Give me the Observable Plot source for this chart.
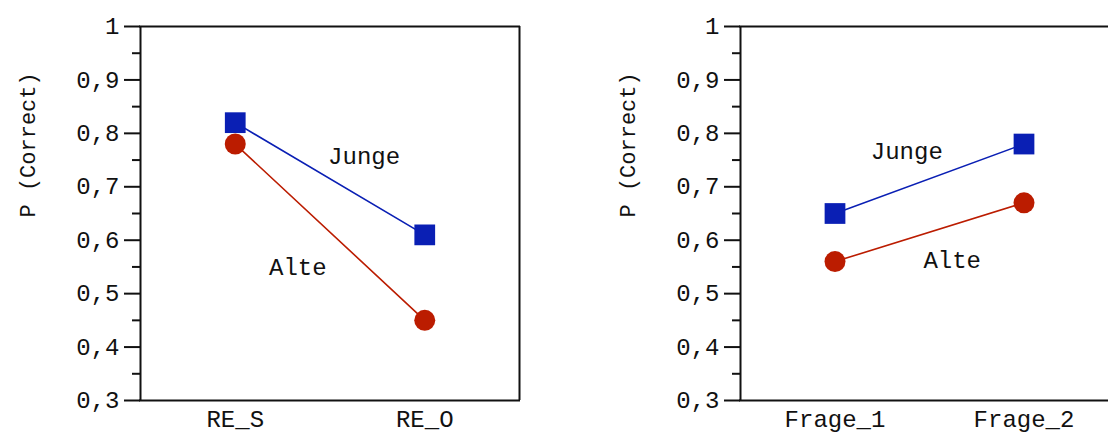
<!DOCTYPE html>
<html>
<head>
<meta charset="utf-8">
<script src="https://cdn.jsdelivr.net/npm/d3@7"></script>
<script src="https://cdn.jsdelivr.net/npm/@observablehq/plot@0.6"></script>
<style>
  html, body { margin: 0; padding: 0; background: #fff; overflow: hidden; }
  #wrap { position: relative; width: 1108px; height: 437px; overflow: hidden; }
  #wrap svg { position: absolute; top: 0; max-width: none !important; }
</style>
</head>
<body>
<div id="wrap"></div>
<script>
// ---- data ----
const groups = ["Junge", "Alte"];
const leftCats = ["RE_S", "RE_O"];
const leftJunge = [0.82, 0.61];
const leftAlte = [0.78, 0.45];
const rightCats = ["Frage_1", "Frage_2"];
const rightJunge = [0.65, 0.78];
const rightAlte = [0.56, 0.67];
const yMajorTicks = [0.3, 0.4, 0.5, 0.6, 0.7, 0.8, 0.9, 1];
const yMinorTicks = [0.35, 0.45, 0.55, 0.65, 0.75, 0.85, 0.95];
const yLabel = "P (Correct)";
// annotation anchors in data units (category index, value)
const leftLabels = [{t: "Junge", i: 0.68, v: 0.757}, {t: "Alte", i: 0.33, v: 0.55}];
const rightLabels = [{t: "Junge", i: 0.38, v: 0.767}, {t: "Alte", i: 0.62, v: 0.563}];

const colors = {Junge: "#0a1fb4", Alte: "#bb1c00"};
const symbols = {Junge: "square", Alte: "circle"};
const fmt = d => d === 1 ? "1" : d.toFixed(1).replace(".", ",");

function rows(cats, junge, alte) {
  const out = [];
  cats.forEach((c, i) => out.push({g: "Junge", i, v: junge[i]}));
  cats.forEach((c, i) => out.push({g: "Alte", i, v: alte[i]}));
  return out;
}

function panel(cats, junge, alte, labels, opts) {
  const data = rows(cats, junge, alte);
  return Plot.plot({
    width: opts.width,
    height: 437,
    marginLeft: opts.marginLeft,
    marginRight: opts.marginRight,
    marginTop: 26,
    marginBottom: 37,
    style: {fontFamily: "'Liberation Mono', monospace", fontSize: "24px", color: "#111", background: "#fff"},
    x: {domain: [-0.5, 1.5], axis: null},
    y: {domain: [0.3, 1], axis: null},
    marks: [
      Plot.ruleY([0.3, 1], {stroke: "#111", strokeWidth: 2, insetLeft: -1, insetRight: -1}),
      Plot.ruleX(opts.edges, {stroke: "#111", strokeWidth: 2}),
      Plot.axisY(yMajorTicks, {tickSize: 16, tickPadding: 5, tickFormat: fmt, label: null, strokeWidth: 2, fontSize: 24}),
      Plot.axisY(yMinorTicks, {tickSize: 8, tickFormat: () => "", label: null, strokeWidth: 2}),
      Plot.axisX([0, 1], {tickSize: 0, tickPadding: 9, tickFormat: i => cats[i], label: null, fontSize: 24}),
      Plot.text([yLabel], {frameAnchor: "left", rotate: -90, dx: -113, dy: 4, fontSize: 22}),
      ...groups.map(g => Plot.line(data.filter(d => d.g === g), {x: "i", y: "v", stroke: colors[g], strokeWidth: 1.6})),
      ...groups.map(g => Plot.dot(data.filter(d => d.g === g), {
        x: "i", y: "v", fill: colors[g], stroke: "none",
        symbol: symbols[g], r: g === "Junge" ? 11.7 : 10.5
      })),
      Plot.text(labels, {x: "i", y: "v", text: "t", fontSize: 24})
    ]
  });
}

const wrap = document.getElementById("wrap");
const left = panel(leftCats, leftJunge, leftAlte, leftLabels, {width: 560, marginLeft: 140, marginRight: 41, edges: [-0.5, 1.5]});
left.style.left = "0px";
wrap.appendChild(left);
const right = panel(rightCats, rightJunge, rightAlte, rightLabels, {width: 600, marginLeft: 180, marginRight: 42, edges: [-0.5]});
right.style.left = "560px";
wrap.appendChild(right);
</script>
</body>
</html>
